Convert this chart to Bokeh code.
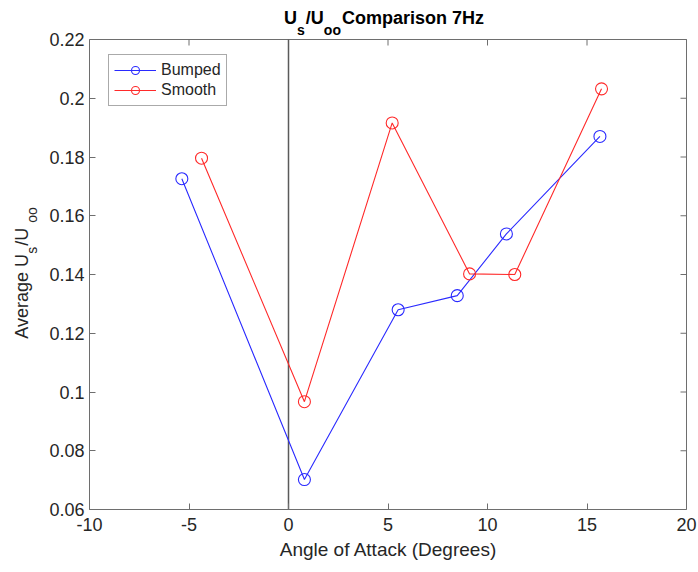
from bokeh.plotting import figure
from bokeh.layouts import row
from bokeh.models import (LinearAxis, FixedTicker, Label, Legend, LegendItem,
                          ColumnDataSource, Range1d)
from bokeh.embed import file_html
from bokeh.resources import INLINE
import math

# --- data -------------------------------------------------------------
bumped_aoa = [-5.36, 0.80, 5.51, 8.48, 10.95, 15.65]
bumped_us = [0.1726, 0.0702, 0.1280, 0.1328, 0.1538, 0.1870]

smooth_aoa = [-4.37, 0.80, 5.21, 9.10, 11.37, 15.73]
smooth_us = [0.1796, 0.0967, 0.1916, 0.1402, 0.1400, 0.2032]

x_ticks = [-10, -5, 0, 5, 10, 15, 20]
x_tick_labels = ["-10", "-5", "0", "5", "10", "15", "20"]
y_ticks = [0.06, 0.08, 0.10, 0.12, 0.14, 0.16, 0.18, 0.20, 0.22]
y_tick_labels = ["0.06", "0.08", "0.1", "0.12", "0.14", "0.16", "0.18", "0.2", "0.22"]

X_MIN, X_MAX = -10, 20
Y_MIN, Y_MAX = 0.06, 0.22

FONT = "Liberation Sans"
TXT = "#262626"
AX = "#6e6e6e"

# --- page geometry (pixels) ---------------------------------------------
W, H = 698, 572
YLAB_W = 40                      # strip holding the rotated y label
MAIN_W = W - YLAB_W
ML, MR, MB = 49, 11, 63          # borders of the main figure
BOX_L, BOX_R = YLAB_W + ML, W - MR - 1     # axes box, page x
BOX_T, BOX_B = 39, H - MB                  # axes box, page y (from top)
TICK = 6

# the frame reaches the top of the page so the title can sit inside it
sx = (X_MAX - X_MIN) / (BOX_R - BOX_L)     # data per pixel
sy = (Y_MAX - Y_MIN) / (BOX_B - BOX_T)
x_end = X_MAX + (W - MR - BOX_R) * sx
y_end = Y_MAX + BOX_T * sy


def px_x(px):
    return X_MIN + (px - BOX_L) * sx


def px_y(py):
    return Y_MIN + (BOX_B - py) * sy


p = figure(width=MAIN_W, height=H, output_backend="svg", toolbar_location=None,
           x_range=Range1d(X_MIN, x_end), y_range=Range1d(Y_MIN, y_end),
           min_border_left=ML, min_border_right=MR, min_border_top=0,
           min_border_bottom=MB, x_axis_type=None, y_axis_type=None)
p.grid.visible = False
p.outline_line_color = None
p.background_fill_color = "white"
p.border_fill_color = "white"


def style_axis(ax):
    ax.major_tick_in = TICK
    ax.major_tick_out = 0
    ax.minor_tick_in = 0
    ax.minor_tick_out = 0
    ax.axis_line_color = AX
    ax.major_tick_line_color = AX
    ax.major_label_text_font = FONT
    ax.major_label_text_color = TXT
    ax.major_label_text_font_size = "18px"


bottom = LinearAxis(ticker=FixedTicker(ticks=x_ticks), bounds=(X_MIN, X_MAX),
                    major_label_overrides=dict(zip(x_ticks, x_tick_labels)))
style_axis(bottom)
bottom.major_label_standoff = 8
bottom.axis_label = "Angle of Attack (Degrees)"
bottom.axis_label_text_font = FONT
bottom.axis_label_text_font_style = "normal"
bottom.axis_label_text_font_size = "19px"
bottom.axis_label_text_color = TXT
bottom.axis_label_standoff = 5
p.add_layout(bottom, "below")

left = LinearAxis(ticker=FixedTicker(ticks=y_ticks), bounds=(Y_MIN, Y_MAX),
                  major_label_overrides=dict(zip(y_ticks, y_tick_labels)))
style_axis(left)
left.major_label_standoff = 5
p.add_layout(left, "left")

# top and right edges of the box, with inward ticks
p.segment(x0=[X_MIN, X_MAX], y0=[Y_MAX, Y_MIN], x1=[X_MAX, X_MAX], y1=[Y_MAX, Y_MAX],
          line_color=AX, line_width=1)
p.segment(x0=x_ticks, x1=x_ticks, y0=[Y_MAX] * len(x_ticks),
          y1=[Y_MAX - TICK * sy] * len(x_ticks), line_color=AX, line_width=1)
p.segment(x0=[X_MAX] * len(y_ticks), x1=[X_MAX - TICK * sx] * len(y_ticks),
          y0=y_ticks, y1=y_ticks, line_color=AX, line_width=1)

# zero-angle reference line
p.segment(x0=[0], x1=[0], y0=[Y_MIN], y1=[Y_MAX], line_color="#5a5a5a", line_width=1.5)

# --- series -----------------------------------------------------------
BLUE = "#2a2aff"
RED = "#ff2a2a"
src_b = ColumnDataSource(dict(x=bumped_aoa, y=bumped_us))
src_s = ColumnDataSource(dict(x=smooth_aoa, y=smooth_us))

lb = p.line("x", "y", source=src_b, line_color=BLUE, line_width=1.1)
cb = p.scatter("x", "y", source=src_b, marker="circle", size=12,
               fill_color=None, line_color=BLUE, line_width=1.1)
ls = p.line("x", "y", source=src_s, line_color=RED, line_width=1.1)
cs = p.scatter("x", "y", source=src_s, marker="circle", size=12,
               fill_color=None, line_color=RED, line_width=1.1)

legend = Legend(items=[LegendItem(label="Bumped", renderers=[lb, cb]),
                       LegendItem(label="Smooth", renderers=[ls, cs])],
                location=(108 - BOX_L, BOX_B - 106), margin=0, padding=5, spacing=0,
                glyph_width=42, glyph_height=20, label_height=20,
                label_width=60, label_standoff=5,
                label_text_font=FONT, label_text_font_size="16px",
                label_text_color=TXT, border_line_color="#555555",
                border_line_width=1, background_fill_alpha=1)
p.add_layout(legend, "center")

# --- rich text with subscripts ----------------------------------------
REG = {'A': 667, 'v': 500, 'e': 556, 'r': 333, 'a': 556, 'g': 556, ' ': 278,
       'U': 722, 's': 500, '/': 278, 'o': 556}
BOLD = {'U': 722, 's': 556, '/': 278, 'o': 611, ' ': 278, 'C': 722, 'm': 889,
        'p': 611, 'a': 556, 'r': 389, 'i': 278, 'n': 611, '7': 556, 'H': 722,
        'z': 500}
MID = 0.3465   # distance baseline -> middle of the font box, in em


def width(s, size, bold):
    table = BOLD if bold else REG
    return sum(table.get(c, 556) for c in s) * size / 1000.0


def add_piece(fig, text, size, bold, x, y, angle=0.0):
    lab = Label(x=x, y=y, text=text, angle=angle, text_align="center",
                text_baseline="middle", text_font=FONT, text_font_size=f"{size}px",
                text_color="black" if bold else TXT,
                text_font_style="bold" if bold else "normal")
    fig.add_layout(lab)


# title: U_s/U_oo Comparison 7Hz, baseline 24 px below the page top
t_main, t_sub, t_drop, t_base = 18, 14, 10, 24
title_pieces = [("U", t_main, False), ("s", t_sub, True), ("/U", t_main, False),
                ("oo", t_sub, True), (" Comparison 7Hz", t_main, False)]
t_total = sum(width(t, s, True) for t, s, _ in title_pieces) + 2
pos = 386 - t_total / 2
for text, size, sub in title_pieces:
    w = width(text, size, True)
    base = t_base + (t_drop if sub else 0)
    add_piece(p, text, size, True, px_x(pos + w / 2), px_y(base - MID * size))
    pos += w + (1 if sub else 0)

# y label strip: its frame lines up with the main frame vertically,
# so its y range is expressed in page pixels counted from the bottom
ylab = figure(width=YLAB_W, height=H, output_backend="svg", toolbar_location=None,
              x_range=Range1d(0, YLAB_W), y_range=Range1d(MB, H),
              min_border_left=0, min_border_right=0, min_border_top=0,
              min_border_bottom=MB, x_axis_type=None, y_axis_type=None)
ylab.grid.visible = False
ylab.outline_line_color = None
ylab.background_fill_color = "white"
ylab.border_fill_color = "white"

# Average U_s /U_oo, read bottom to top, baseline at x = 28
y_main, y_sub, y_drop, y_base = 18, 14, 8, 28
ylab_pieces = [("Average U", y_main, False), ("s", y_sub, True), (" /U", y_main, False),
               ("oo", y_sub, True)]
y_total = sum(width(t, s, False) for t, s, _ in ylab_pieces) + 2
pos = (H - 272) - y_total / 2
for text, size, sub in ylab_pieces:
    w = width(text, size, False)
    base = y_base + (y_drop if sub else 0)
    add_piece(ylab, text, size, False, base - MID * size, pos + w / 2, math.pi / 2)
    pos += w + (1 if sub else 0)

page = row(ylab, p, spacing=0)
open("out.html", "w").write(file_html(page, INLINE))
